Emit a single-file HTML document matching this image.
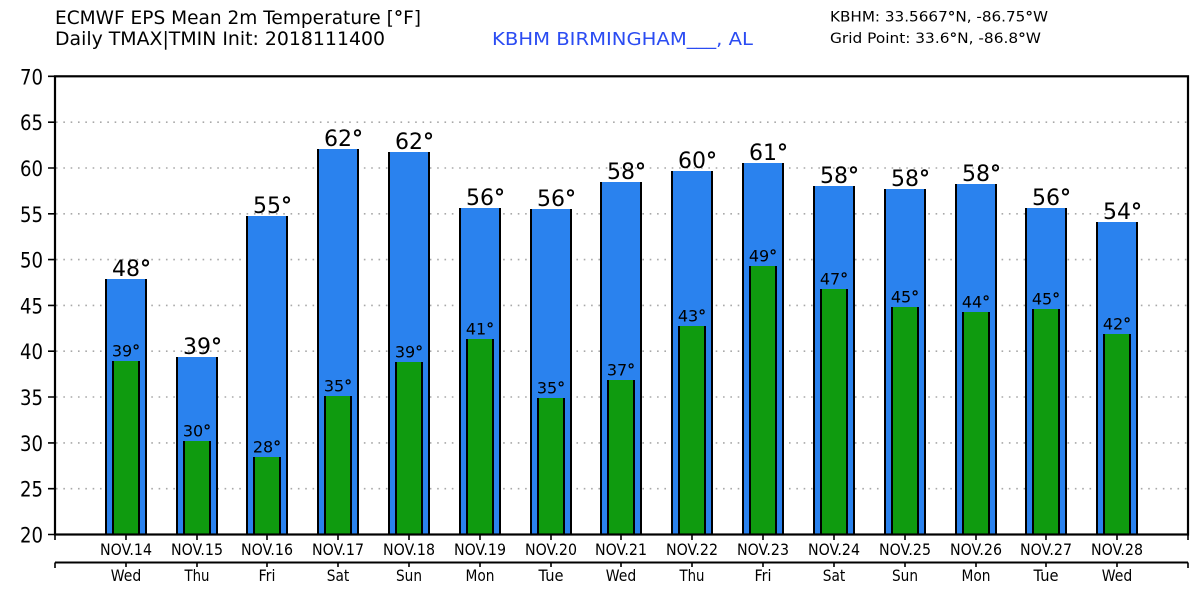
<!DOCTYPE html>
<html><head><meta charset="utf-8"><style>
html,body{margin:0;padding:0;background:#fff;}
svg{display:block;}
text{font-family:"DejaVu Sans","Liberation Sans",sans-serif;fill:#000;}
.d{font-weight:bold;}
.b{fill:#2a82ee;}
.g{fill:#0f9b0f;}
.k{stroke:#000;stroke-width:2;fill:none;}
.mx{font-size:22px;}
.mn{font-size:16px;text-anchor:middle;}
.yl{font-size:21px;text-anchor:end;}
.nv{font-size:16px;text-anchor:middle;}
.dy{font-size:16px;text-anchor:middle;}
.grid{stroke:#a8a8a8;stroke-width:1.6;stroke-dasharray:1.6 5.73;}
</style></head><body>
<svg width="1200" height="600" viewBox="0 0 1200 600" xmlns="http://www.w3.org/2000/svg">
<rect width="1200" height="600" fill="#fff"/>
<!-- header -->
<text x="55" y="24" font-size="19" textLength="366" lengthAdjust="spacingAndGlyphs">ECMWF EPS Mean 2m Temperature [<tspan class="d">°</tspan>F]</text>
<text x="55" y="45" font-size="19" textLength="330" lengthAdjust="spacingAndGlyphs">Daily TMAX|TMIN Init: 2018111400</text>
<text x="492" y="45" font-size="18" textLength="261" lengthAdjust="spacingAndGlyphs" style="fill:#2b4cf2">KBHM BIRMINGHAM___, AL</text>
<text x="830" y="21.5" font-size="14" textLength="218" lengthAdjust="spacingAndGlyphs">KBHM: 33.5667<tspan class="d">°</tspan>N, -86.75<tspan class="d">°</tspan>W</text>
<text x="830" y="43" font-size="14" textLength="211" lengthAdjust="spacingAndGlyphs">Grid Point: 33.6<tspan class="d">°</tspan>N, -86.8<tspan class="d">°</tspan>W</text>

<!-- grid -->
<g class="grid">
<line x1="56" x2="1187" y1="488.7" y2="488.7"/>
<line x1="56" x2="1187" y1="442.9" y2="442.9"/>
<line x1="56" x2="1187" y1="397.0" y2="397.0"/>
<line x1="56" x2="1187" y1="351.2" y2="351.2"/>
<line x1="56" x2="1187" y1="305.4" y2="305.4"/>
<line x1="56" x2="1187" y1="259.6" y2="259.6"/>
<line x1="56" x2="1187" y1="213.8" y2="213.8"/>
<line x1="56" x2="1187" y1="168.0" y2="168.0"/>
<line x1="56" x2="1187" y1="122.2" y2="122.2"/>
</g>

<!-- bars -->
<g transform="translate(126,0)">
<rect x="-21" y="279" width="42" height="256" class="b"/><path d="M-20 279V535M20 279V535" class="k"/>
<rect x="-14" y="361" width="28" height="174" class="g"/><path d="M-13 361V535M13 361V535" class="k"/>
<text x="-14" y="276" class="mx">48<tspan class="d">°</tspan></text><text x="0" y="356.5" class="mn">39<tspan class="d">°</tspan></text></g>

<g transform="translate(197,0)">
<rect x="-21" y="357" width="42" height="178" class="b"/><path d="M-20 357V535M20 357V535" class="k"/>
<rect x="-14" y="441" width="28" height="94" class="g"/><path d="M-13 441V535M13 441V535" class="k"/>
<text x="-14" y="354" class="mx">39<tspan class="d">°</tspan></text><text x="0" y="436.5" class="mn">30<tspan class="d">°</tspan></text></g>

<g transform="translate(267,0)">
<rect x="-21" y="216" width="42" height="319" class="b"/><path d="M-20 216V535M20 216V535" class="k"/>
<rect x="-14" y="457" width="28" height="78" class="g"/><path d="M-13 457V535M13 457V535" class="k"/>
<text x="-14" y="213" class="mx">55<tspan class="d">°</tspan></text><text x="0" y="452.5" class="mn">28<tspan class="d">°</tspan></text></g>

<g transform="translate(338,0)">
<rect x="-21" y="149" width="42" height="386" class="b"/><path d="M-20 149V535M20 149V535" class="k"/>
<rect x="-14" y="396" width="28" height="139" class="g"/><path d="M-13 396V535M13 396V535" class="k"/>
<text x="-14" y="146" class="mx">62<tspan class="d">°</tspan></text><text x="0" y="391.5" class="mn">35<tspan class="d">°</tspan></text></g>

<g transform="translate(409,0)">
<rect x="-21" y="152" width="42" height="383" class="b"/><path d="M-20 152V535M20 152V535" class="k"/>
<rect x="-14" y="362" width="28" height="173" class="g"/><path d="M-13 362V535M13 362V535" class="k"/>
<text x="-14" y="149" class="mx">62<tspan class="d">°</tspan></text><text x="0" y="357.5" class="mn">39<tspan class="d">°</tspan></text></g>

<g transform="translate(480,0)">
<rect x="-21" y="208" width="42" height="327" class="b"/><path d="M-20 208V535M20 208V535" class="k"/>
<rect x="-14" y="339" width="28" height="196" class="g"/><path d="M-13 339V535M13 339V535" class="k"/>
<text x="-14" y="205" class="mx">56<tspan class="d">°</tspan></text><text x="0" y="334.5" class="mn">41<tspan class="d">°</tspan></text></g>

<g transform="translate(551,0)">
<rect x="-21" y="209" width="42" height="326" class="b"/><path d="M-20 209V535M20 209V535" class="k"/>
<rect x="-14" y="398" width="28" height="137" class="g"/><path d="M-13 398V535M13 398V535" class="k"/>
<text x="-14" y="206" class="mx">56<tspan class="d">°</tspan></text><text x="0" y="393.5" class="mn">35<tspan class="d">°</tspan></text></g>

<g transform="translate(621,0)">
<rect x="-21" y="182" width="42" height="353" class="b"/><path d="M-20 182V535M20 182V535" class="k"/>
<rect x="-14" y="380" width="28" height="155" class="g"/><path d="M-13 380V535M13 380V535" class="k"/>
<text x="-14" y="179" class="mx">58<tspan class="d">°</tspan></text><text x="0" y="375.5" class="mn">37<tspan class="d">°</tspan></text></g>

<g transform="translate(692,0)">
<rect x="-21" y="171" width="42" height="364" class="b"/><path d="M-20 171V535M20 171V535" class="k"/>
<rect x="-14" y="326" width="28" height="209" class="g"/><path d="M-13 326V535M13 326V535" class="k"/>
<text x="-14" y="168" class="mx">60<tspan class="d">°</tspan></text><text x="0" y="321.5" class="mn">43<tspan class="d">°</tspan></text></g>

<g transform="translate(763,0)">
<rect x="-21" y="163" width="42" height="372" class="b"/><path d="M-20 163V535M20 163V535" class="k"/>
<rect x="-14" y="266" width="28" height="269" class="g"/><path d="M-13 266V535M13 266V535" class="k"/>
<text x="-14" y="160" class="mx">61<tspan class="d">°</tspan></text><text x="0" y="261.5" class="mn">49<tspan class="d">°</tspan></text></g>

<g transform="translate(834,0)">
<rect x="-21" y="186" width="42" height="349" class="b"/><path d="M-20 186V535M20 186V535" class="k"/>
<rect x="-14" y="289" width="28" height="246" class="g"/><path d="M-13 289V535M13 289V535" class="k"/>
<text x="-14" y="183" class="mx">58<tspan class="d">°</tspan></text><text x="0" y="284.5" class="mn">47<tspan class="d">°</tspan></text></g>

<g transform="translate(905,0)">
<rect x="-21" y="189" width="42" height="346" class="b"/><path d="M-20 189V535M20 189V535" class="k"/>
<rect x="-14" y="307" width="28" height="228" class="g"/><path d="M-13 307V535M13 307V535" class="k"/>
<text x="-14" y="186" class="mx">58<tspan class="d">°</tspan></text><text x="0" y="302.5" class="mn">45<tspan class="d">°</tspan></text></g>

<g transform="translate(976,0)">
<rect x="-21" y="184" width="42" height="351" class="b"/><path d="M-20 184V535M20 184V535" class="k"/>
<rect x="-14" y="312" width="28" height="223" class="g"/><path d="M-13 312V535M13 312V535" class="k"/>
<text x="-14" y="181" class="mx">58<tspan class="d">°</tspan></text><text x="0" y="307.5" class="mn">44<tspan class="d">°</tspan></text></g>

<g transform="translate(1046,0)">
<rect x="-21" y="208" width="42" height="327" class="b"/><path d="M-20 208V535M20 208V535" class="k"/>
<rect x="-14" y="309" width="28" height="226" class="g"/><path d="M-13 309V535M13 309V535" class="k"/>
<text x="-14" y="205" class="mx">56<tspan class="d">°</tspan></text><text x="0" y="304.5" class="mn">45<tspan class="d">°</tspan></text></g>

<g transform="translate(1117,0)">
<rect x="-21" y="222" width="42" height="313" class="b"/><path d="M-20 222V535M20 222V535" class="k"/>
<rect x="-14" y="334" width="28" height="201" class="g"/><path d="M-13 334V535M13 334V535" class="k"/>
<text x="-14" y="219" class="mx">54<tspan class="d">°</tspan></text><text x="0" y="329.5" class="mn">42<tspan class="d">°</tspan></text></g>

<!-- frame -->
<rect x="55" y="76.3" width="1133" height="458.2" fill="none" stroke="#000" stroke-width="2.2"/>

<!-- y ticks -->
<path d="M48 76.3H55M48 122.2H55M48 168H55M48 213.8H55M48 259.6H55M48 305.4H55M48 351.2H55M48 397H55M48 442.9H55M48 488.7H55M48 534.5H55" stroke="#000" stroke-width="1.6"/>
<g class="yl">
<text x="43" y="84.3" class="yl" textLength="23" lengthAdjust="spacingAndGlyphs">70</text>
<text x="43" y="130.2" class="yl" textLength="23" lengthAdjust="spacingAndGlyphs">65</text>
<text x="43" y="176" class="yl" textLength="23" lengthAdjust="spacingAndGlyphs">60</text>
<text x="43" y="221.8" class="yl" textLength="23" lengthAdjust="spacingAndGlyphs">55</text>
<text x="43" y="267.6" class="yl" textLength="23" lengthAdjust="spacingAndGlyphs">50</text>
<text x="43" y="313.4" class="yl" textLength="23" lengthAdjust="spacingAndGlyphs">45</text>
<text x="43" y="359.2" class="yl" textLength="23" lengthAdjust="spacingAndGlyphs">40</text>
<text x="43" y="405" class="yl" textLength="23" lengthAdjust="spacingAndGlyphs">35</text>
<text x="43" y="450.9" class="yl" textLength="23" lengthAdjust="spacingAndGlyphs">30</text>
<text x="43" y="496.7" class="yl" textLength="23" lengthAdjust="spacingAndGlyphs">25</text>
<text x="43" y="542.5" class="yl" textLength="23" lengthAdjust="spacingAndGlyphs">20</text>
</g>

<!-- x ticks -->
<path d="M55 534.5V540M126 534.5V540M197 534.5V540M267 534.5V540M338 534.5V540M409 534.5V540M480 534.5V540M551 534.5V540M621 534.5V540M692 534.5V540M763 534.5V540M834 534.5V540M905 534.5V540M976 534.5V540M1046 534.5V540M1117 534.5V540M1188 534.5V540" stroke="#000" stroke-width="1.6"/>
<path d="M55 562.5H1188" stroke="#000" stroke-width="2"/>
<path d="M55 562.5V568M126 562.5V567M197 562.5V567M267 562.5V567M338 562.5V567M409 562.5V567M480 562.5V567M551 562.5V567M621 562.5V567M692 562.5V567M763 562.5V567M834 562.5V567M905 562.5V567M976 562.5V567M1046 562.5V567M1117 562.5V567M1188 562.5V568" stroke="#000" stroke-width="1.6"/>

<g>
<text x="126" y="555" class="nv" textLength="52" lengthAdjust="spacingAndGlyphs">NOV.14</text>
<text x="197" y="555" class="nv" textLength="52" lengthAdjust="spacingAndGlyphs">NOV.15</text>
<text x="267" y="555" class="nv" textLength="52" lengthAdjust="spacingAndGlyphs">NOV.16</text>
<text x="338" y="555" class="nv" textLength="52" lengthAdjust="spacingAndGlyphs">NOV.17</text>
<text x="409" y="555" class="nv" textLength="52" lengthAdjust="spacingAndGlyphs">NOV.18</text>
<text x="480" y="555" class="nv" textLength="52" lengthAdjust="spacingAndGlyphs">NOV.19</text>
<text x="551" y="555" class="nv" textLength="52" lengthAdjust="spacingAndGlyphs">NOV.20</text>
<text x="621" y="555" class="nv" textLength="52" lengthAdjust="spacingAndGlyphs">NOV.21</text>
<text x="692" y="555" class="nv" textLength="52" lengthAdjust="spacingAndGlyphs">NOV.22</text>
<text x="763" y="555" class="nv" textLength="52" lengthAdjust="spacingAndGlyphs">NOV.23</text>
<text x="834" y="555" class="nv" textLength="52" lengthAdjust="spacingAndGlyphs">NOV.24</text>
<text x="905" y="555" class="nv" textLength="52" lengthAdjust="spacingAndGlyphs">NOV.25</text>
<text x="976" y="555" class="nv" textLength="52" lengthAdjust="spacingAndGlyphs">NOV.26</text>
<text x="1046" y="555" class="nv" textLength="52" lengthAdjust="spacingAndGlyphs">NOV.27</text>
<text x="1117" y="555" class="nv" textLength="52" lengthAdjust="spacingAndGlyphs">NOV.28</text>
</g>
<g>
<text x="126" y="581" class="dy" textLength="30.5" lengthAdjust="spacingAndGlyphs">Wed</text>
<text x="197" y="581" class="dy" textLength="25" lengthAdjust="spacingAndGlyphs">Thu</text>
<text x="267" y="581" class="dy" textLength="17" lengthAdjust="spacingAndGlyphs">Fri</text>
<text x="338" y="581" class="dy" textLength="22.5" lengthAdjust="spacingAndGlyphs">Sat</text>
<text x="409" y="581" class="dy" textLength="26" lengthAdjust="spacingAndGlyphs">Sun</text>
<text x="480" y="581" class="dy" textLength="29" lengthAdjust="spacingAndGlyphs">Mon</text>
<text x="551" y="581" class="dy" textLength="25" lengthAdjust="spacingAndGlyphs">Tue</text>
<text x="621" y="581" class="dy" textLength="30.5" lengthAdjust="spacingAndGlyphs">Wed</text>
<text x="692" y="581" class="dy" textLength="25" lengthAdjust="spacingAndGlyphs">Thu</text>
<text x="763" y="581" class="dy" textLength="17" lengthAdjust="spacingAndGlyphs">Fri</text>
<text x="834" y="581" class="dy" textLength="22.5" lengthAdjust="spacingAndGlyphs">Sat</text>
<text x="905" y="581" class="dy" textLength="26" lengthAdjust="spacingAndGlyphs">Sun</text>
<text x="976" y="581" class="dy" textLength="29" lengthAdjust="spacingAndGlyphs">Mon</text>
<text x="1046" y="581" class="dy" textLength="25" lengthAdjust="spacingAndGlyphs">Tue</text>
<text x="1117" y="581" class="dy" textLength="30.5" lengthAdjust="spacingAndGlyphs">Wed</text>
</g>
</svg>
</body></html>
